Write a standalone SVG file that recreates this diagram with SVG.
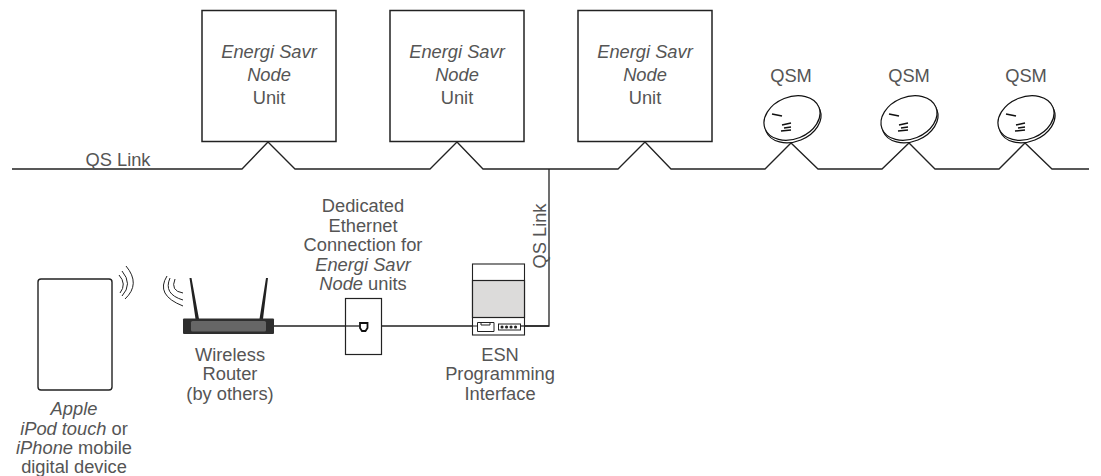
<svg xmlns="http://www.w3.org/2000/svg" width="1101" height="476" viewBox="0 0 1101 476">
<defs>
<style>
text{font-family:"Liberation Sans",Arial,sans-serif;font-size:18.3px;fill:#555;text-anchor:middle}
.i{font-style:italic}
.b{fill:#fff;stroke:#222;stroke-width:1.5}
.l{fill:none;stroke:#222;stroke-width:1.3}
.w{fill:none;stroke:#222;stroke-width:1}
</style>
<g id="qsm-shape">
<ellipse cx="1" cy="2.500" rx="29" ry="21" transform="rotate(-22 1 2.500)" fill="#fff" stroke="#111" stroke-width="1.2"/>
<ellipse cx="0" cy="0" rx="29" ry="21" transform="rotate(-22 0 0)" fill="#fff" stroke="#111" stroke-width="1.2"/>
<path d="M-20-4l10 2" stroke="#111" stroke-width="1.6" fill="none"/>
<path d="M-10 7l9-2M-8 10l7-1M-11 13l10-1" stroke="#111" stroke-width="1.5" fill="none"/>
</g>
</defs>
<g id="connectors">
<path class="l" d="M12 169H242L268 142L295 169H430L457 142L483 169H618L645 142L671 169H765L791 143L818 169H882L909 143L935 169H999L1025 143L1052 169H1089"/>
<path class="l" d="M549 169V326H381M345 326H274"/>
</g>
<g id="node-1"><rect class="b" x="202" y="10.500" width="134" height="131"/><text x="269" y="58" class="i">Energi Savr</text><text x="269" y="81" class="i">Node</text><text x="269" y="104">Unit</text></g>
<g id="node-2"><rect class="b" x="390" y="10.500" width="134" height="131"/><text x="457" y="58" class="i">Energi Savr</text><text x="457" y="81" class="i">Node</text><text x="457" y="104">Unit</text></g>
<g id="node-3"><rect class="b" x="578" y="10.500" width="134" height="131"/><text x="645" y="58" class="i">Energi Savr</text><text x="645" y="81" class="i">Node</text><text x="645" y="104">Unit</text></g>
<g id="qsm-1"><text x="791" y="82">QSM</text><use href="#qsm-shape" x="792" y="118"/></g>
<g id="qsm-2"><text x="909" y="82">QSM</text><use href="#qsm-shape" x="909" y="118"/></g>
<g id="qsm-3"><text x="1026" y="82">QSM</text><use href="#qsm-shape" x="1026" y="118"/></g>
<g id="label-qs-link"><text x="118" y="166">QS Link</text></g>
<g id="label-qs-link-v"><text transform="translate(546 236) rotate(-90)">QS Link</text></g>
<g id="device">
<rect x="38" y="279" width="74" height="111" rx="3" fill="#fff" stroke="#222" stroke-width="1.4"/>
<path class="w" d="M119 275Q127 284 120 293M122 271Q133 284 122 296M126 266Q141 284 125 299"/>
<text x="74" y="415" class="i">Apple</text>
<text x="74" y="435"><tspan class="i">iPod touch</tspan> or</text>
<text x="74" y="454"><tspan class="i">iPhone</tspan> mobile</text>
<text x="74" y="473">digital device</text>
</g>
<g id="router">
<path class="w" d="M183 293Q170 291 175 279M183 300Q163 294 170 278M183 306Q155 295 167 276"/>
<path d="M189.500 278L191.500 278L199 319H195.500ZM266 278L268 278L263 319H259.500Z" fill="#222"/>
<rect x="183" y="318.500" width="91" height="15.500" rx="1" fill="#2e2e2e"/>
<rect x="191" y="321" width="75" height="10.500" rx="1.500" fill="#666"/>
<text x="230" y="361">Wireless</text>
<text x="230" y="380">Router</text>
<text x="230" y="400">(by others)</text>
</g>
<g id="wall-plate">
<rect class="b" x="345.500" y="298.500" width="36" height="56" style="stroke-width:1.2"/>
<path d="M360 323H367.500V328L365.500 331H362L360 328Z" fill="#fff" stroke="#111" stroke-width="1.8"/>
<path d="M345 326H360" class="l"/>
<text x="363" y="212">Dedicated</text>
<text x="363" y="232">Ethernet</text>
<text x="363" y="251">Connection for</text>
<text x="363" y="271"><tspan class="i">Energi Savr</tspan></text>
<text x="363" y="290"><tspan class="i">Node</tspan> units</text>
</g>
<g id="esn">
<rect x="472.500" y="264" width="52" height="71" fill="#fff" stroke="#222" stroke-width="1.1"/>
<rect x="472.500" y="280.500" width="52" height="37" fill="#dcdbda" stroke="#222" stroke-width="1.2"/>
<path d="M477.500 322.500H494V331.500H477.500ZM481 322.500V325H490V322.500M477.500 326H472.500" fill="#fff" stroke="#222" stroke-width="1"/>
<rect x="498.500" y="324" width="22" height="6" fill="#fff" stroke="#222" stroke-width="1"/>
<path d="M502 327h.1M506.500 327h.1M511 327h.1M515.500 327h.1" stroke="#222" stroke-width="3" stroke-linecap="round"/>
<path class="l" d="M520.500 326H549"/>
<text x="500" y="361">ESN</text>
<text x="500" y="380">Programming</text>
<text x="500" y="400">Interface</text>
</g>
</svg>
